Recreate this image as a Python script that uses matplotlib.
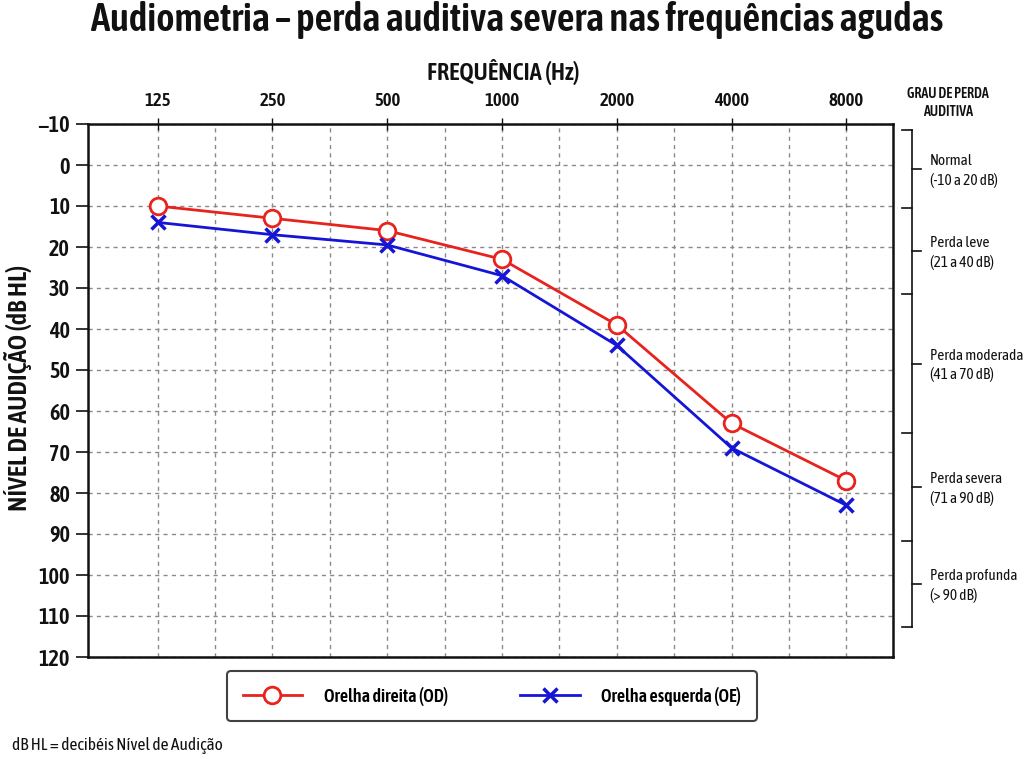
import matplotlib
matplotlib.use("Agg")
import matplotlib.pyplot as plt
import matplotlib.patheffects as pe
from matplotlib import font_manager
import numpy as np


def _w(f):
    w = f.weight
    if isinstance(w, str):
        return 700 if 'bold' in w.lower() or 'black' in w.lower() or 'heavy' in w.lower() else 400
    return int(w)


# pick a narrow face if one is installed, prefer one that has a bold weight
fonts = font_manager.fontManager.ttflist
narrow = [f for f in fonts if 'Narrow' in f.name or 'Condensed' in f.name]
bold_narrow = sorted({f.name for f in narrow if _w(f) >= 600})
if bold_narrow:
    family = bold_narrow[0]
elif narrow:
    family = narrow[0].name
else:
    family = 'Liberation Sans'
has_bold = any(f.name == family and _w(f) >= 600 for f in fonts)
semi = any(f.name == family and 550 <= _w(f) <= 650 for f in fonts)
WEIGHT = 'semibold' if semi else 'bold'
plt.rcParams['font.family'] = [family, 'DejaVu Sans']

INK = '#111111'
# fake the bold weight with a thin outline when the face has none
BOLD_FX = [] if has_bold else [pe.withStroke(linewidth=0.9, foreground=INK)]

# audiogram data (dB HL)
frequencies = ["125", "250", "500", "1000", "2000", "4000", "8000"]
od_values = [10, 13, 16, 23, 39, 63, 77]
oe_values = [14, 17, 19.5, 27, 44, 69, 83]
y_ticks = list(range(-10, 121, 10))

degree_labels = ["Normal\n(-10 a 20 dB)", "Perda leve\n(21 a 40 dB)",
                 "Perda moderada\n(41 a 70 dB)", "Perda severa\n(71 a 90 dB)",
                 "Perda profunda\n(> 90 dB)"]
# bracket edges on the right side, pixels from top of the picture
bracket_edges = [130, 208, 294, 433, 541, 627]

RED = '#e8231e'
BLUE = '#1515d6'

fig = plt.figure(figsize=(10.24, 7.59), dpi=100)
W, H = 1024, 759
renderer = fig.canvas.get_renderer()


def fit(t, target, horizontal=True):
    # scale the font so the text spans about `target` pixels
    bb = t.get_window_extent(renderer)
    size = bb.width if horizontal else bb.height
    t.set_fontsize(t.get_fontsize() * target / size)


def embolden(t):
    t.set_fontweight(WEIGHT)
    if BOLD_FX:
        t.set_path_effects(BOLD_FX)


ax = fig.add_axes([88 / W, 1 - 657 / H, 805 / W, 533 / H])
x = np.arange(len(frequencies))

l1, = ax.plot(x, od_values, color=RED, lw=2, marker='o', ms=12, mfc='white',
              mec=RED, mew=2, zorder=3, label='Orelha direita (OD)')
l2, = ax.plot(x, oe_values, color=BLUE, lw=2, marker='x', ms=10, mew=2.5,
              zorder=3, label='Orelha esquerda (OE)')

ax.set_xlim(-0.607, 6.406)
ax.set_ylim(120, -10)

ax.xaxis.tick_top()
ax.set_xticks(x, frequencies)
ax.set_xticks(np.arange(0.5, 6, 1), minor=True)
ax.tick_params(axis='x', which='major', direction='inout', length=8, width=1,
               labelsize=13.5, pad=6, colors=INK)
ax.tick_params(axis='x', which='minor', length=0)
for lab in ax.get_xticklabels():
    embolden(lab)

ax.set_yticks(y_ticks)
ax.set_yticklabels([str(v).replace('-', '\u2212') for v in y_ticks])
ax.tick_params(axis='y', direction='out', length=9, width=1.2, labelsize=16,
               pad=4, colors=INK)
for lab in ax.get_yticklabels():
    embolden(lab)

ax.grid(True, which='both', axis='x', linestyle=(0, (3, 3)), color='#8a8a8a', lw=1)
ax.grid(True, which='major', axis='y', linestyle=(0, (3, 3)), color='#8a8a8a', lw=1)
for s in ax.spines.values():
    s.set_linewidth(1.8)
    s.set_color(INK)

leg = ax.legend(handles=[l1, l2], loc='center', bbox_to_anchor=(492 / W, 1 - 696 / H),
                bbox_transform=fig.transFigure, ncol=2, frameon=True, fancybox=True,
                edgecolor=INK, handlelength=3.3, columnspacing=4.0, borderpad=0.85,
                handletextpad=1.2, prop={'size': 13})
leg.get_frame().set_linewidth(1.5)
for t in leg.get_texts():
    embolden(t)

# texts
title = fig.text(517 / W, 1 - 20 / H,
                 'Audiometria \u2013 perda auditiva severa nas frequências agudas',
                 ha='center', va='center', fontsize=25, color=INK)
embolden(title)
fit(title, 855)
xl = fig.text(503 / W, 1 - 72 / H, 'FREQUÊNCIA (Hz)', ha='center', va='center',
              fontsize=14, color=INK)
embolden(xl)
fit(xl, 153)
yl = fig.text(18 / W, 1 - 388 / H, 'NÍVEL DE AUDIÇÃO (dB HL)', ha='center', va='center',
              rotation=90, fontsize=15, color=INK)
embolden(yl)
fit(yl, 246, horizontal=False)
foot = fig.text(12 / W, 1 - 745 / H, 'dB HL = decibéis Nível de Audição', ha='left',
                va='center', fontsize=10.5, color=INK)
fit(foot, 212)

# right-hand bracket with hearing-loss degrees
ov = fig.add_axes([0, 0, 1, 1])
ov.set_xlim(0, W)
ov.set_ylim(H, 0)
ov.axis('off')
head = ov.text(948, 103, 'GRAU DE PERDA\nAUDITIVA', ha='center', va='center', fontsize=10,
               color=INK, linespacing=1.3)
embolden(head)
fit(head, 82)
ov.plot([912, 912], [bracket_edges[0], bracket_edges[-1]], color=INK, lw=1.2)
for e in bracket_edges:
    ov.plot([902, 912], [e, e], color=INK, lw=1.2)
for top, bot, lab in zip(bracket_edges[:-1], bracket_edges[1:], degree_labels):
    mid = (top + bot) / 2
    ov.plot([912, 921], [mid, mid], color=INK, lw=1.2)
    ov.text(930, mid + 2, lab, ha='left', va='center', fontsize=11, color=INK,
            linespacing=1.4)

fig.savefig('out.png', dpi=100)
